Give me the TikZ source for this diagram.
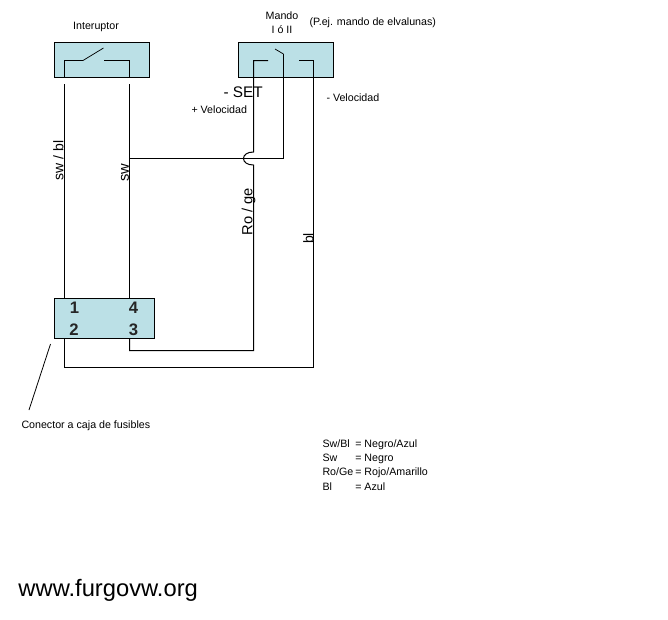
\documentclass[tikz,border=0pt]{standalone}
\usepackage{fontspec}
\setmainfont{Liberation Sans}
\definecolor{cajaazul}{RGB}{187,224,230}
\begin{document}
\begin{tikzpicture}[x=0.75pt,y=-0.75pt,line join=miter,line cap=butt,line width=0.75pt]
	\tikzset{caja/.style={draw,fill=cajaazul,inner sep=0pt,outer sep=0pt,minimum height=26.25pt}}
	\tikzset{etiqueta/.style={font=\fontsize{8}{9}\selectfont,inner sep=0pt,yshift=-0.75pt}}
	\tikzset{rotulo/.style={font=\fontsize{10.5}{12}\selectfont,inner sep=0pt,rotate=90,anchor=south}}
	\tikzset{pin/.style={font=\fontsize{12.5}{14}\selectfont\bfseries,inner sep=0pt,text=black!85}}
	\useasboundingbox (0,0) rectangle (668,619);
	% cajas
	\node[caja,minimum width=71.25pt] (interuptor) at (102,60) {};
	\node[caja,minimum width=71.25pt] (mando) at (286,60) {};
	\node[caja,minimum width=75pt,minimum height=30pt] (conector) at (104.5,318.5) {};
	% puntos de los cables
	\foreach \n/\x/\y in {a1/64.5/77.5,a2/64.5/60.5,a3/83/60.5,a4/103.5/48,b1/104/60.5,b2/129.5/60.5,b3/129.5/77.5,
		c1/64.5/84,c2/64.5/298.5,d1/129.5/84,d2/129.5/298.5,d3/129.5/158.5,
		e1/253.5/60.5,e2/268/60.5,e3/253.5/152,e4/253.5/165,e5/253.5/350.5,e6/129.5/350.5,e7/129.5/338.5,
		f1/275/49,f2/283.5/54,f3/283.5/158.5,
		g1/299/60.5,g2/313.5/60.5,g3/313.5/367.5,g4/64.5/367.5,g5/64.5/338.5,
		h1/50.5/344,h2/29/410}
	\coordinate (\n) at (\x,\y);
	% interruptor
	\draw (a1)--(a2)--(a3);
	\draw[line width=0.55pt] (a3)--(a4);
	\draw (b1)--(b2)--(b3);
	\draw (c1)--(c2);
	\draw (d1)--(d2);
	% mando
	\draw (e2)--(e1)--(e3) .. controls (247,152) and (243.5,155) .. (243.5,158.5) .. controls (243.5,162) and (247,165) .. (e4)--(e5)--(e6)--(e7);
	\draw[line width=0.55pt] (f1)--(f2);
	\draw (f2)--(f3)--(d3);
	\draw (g1)--(g2)--(g3)--(g4)--(g5);
	\draw[line width=0.6pt] (h1)--(h2);
	% textos
	\node[etiqueta] (tinteruptor) at (96,26) {Interuptor};
	\node[etiqueta] (tmando) at (282,15) {Mando};
	\node[etiqueta] (tnumero) at (282,29) {I ó II};
	\node[etiqueta,anchor=west] (tejemplo) at (309,22) {(P.ej. mando de elvalunas)};
	\node[font=\fontsize{11.5}{13}\selectfont,inner sep=0pt,anchor=west] (tset) at (223,92.5) {- SET};
	\node[etiqueta,anchor=west] (tmas) at (191,109) {+ Velocidad};
	\node[etiqueta,anchor=west] (tmenos) at (326,97) {- Velocidad};
	\node[rotulo] (tswbl) at (64,160.5) {sw / bl};
	\node[rotulo,font=\fontsize{11}{13}\selectfont] (tsw) at (129.5,172.5) {sw};
	\node[rotulo,font=\fontsize{11}{13}\selectfont] (tro) at (256,211.5) {Ro / ge};
	\node[rotulo] (tbl) at (314,238.5) {bl};
	\foreach \n/\x/\y in {1/74.5/308,4/133.5/308,2/74/329.5,3/133.5/329.5}
	\node[pin] (pin\n) at (\x,\y) {\n};
	\node[etiqueta,anchor=west] (tconector) at (21,425) {Conector a caja de fusibles};
	\foreach \k/\v/\y in {{Sw/Bl}/{Negro/Azul}/444,Sw/Negro/458,{Ro/Ge}/{Rojo/Amarillo}/472,Bl/Azul/486}
	\node[etiqueta,anchor=west] (leyenda\y) at (322,\y) {\makebox[24.6pt][l]{\k}= \v};
	\node[font=\fontsize{17.8}{20}\selectfont,inner sep=0pt,anchor=west] (web) at (18,590.5) {www.furgovw.org};
\end{tikzpicture}
\end{document}
